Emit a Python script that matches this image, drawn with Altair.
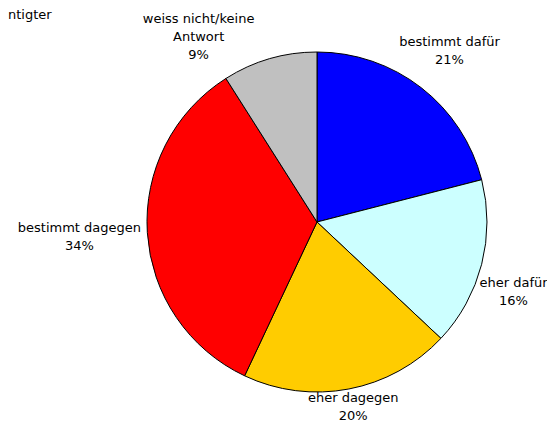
import altair as alt
import pandas as pd

categories = ["bestimmt dafür", "eher dafür", "eher dagegen", "bestimmt dagegen", "weiss nicht/keine Antwort"]
values = [21, 16, 20, 34, 9]
labels = ["bestimmt dafür\n21%", "eher dafür\n16%", "eher dagegen\n20%",
          "bestimmt dagegen\n34%", "weiss nicht/keine\nAntwort\n9%"]
colors = ["#0000FF", "#CCFFFF", "#FFCC00", "#FF0000", "#C0C0C0"]
note_text = ["ntigter"]

df = pd.DataFrame({"category": categories, "value": values, "label": labels,
                   "idx": list(range(len(categories)))})

W, H = 539, 416
CX, CY, R = 309, 214, 170
R0 = 176
LH = 18
FONT = "DejaVu Sans"

base = alt.Chart(df)

pie = base.mark_arc(outerRadius=R, stroke="black", strokeWidth=1).encode(
    theta=alt.Theta("value:Q", stack=True),
    order=alt.Order("idx:Q", sort="ascending"),
    color=alt.Color("category:N", scale=alt.Scale(domain=categories, range=colors), legend=None),
    x=alt.value(CX),
    y=alt.value(CY),
)

lymin = f"(-({CY} - datum.hh - 2))"
lymax = f"({H} - {CY} - datum.hh + 1)"
lxmax = f"({W} - {CX} - datum.hw + 5)"
lxmin = f"(-({CX} - datum.hw - 2))"

text = base.transform_window(
    cum="sum(value)", sort=[alt.SortField("idx")], frame=[None, 0]
).transform_joinaggregate(
    total="sum(value)"
).transform_calculate(
    a="2*PI*(datum.cum - datum.value/2)/datum.total",
    hw="indexof(datum.label, '\\n')*3.85",
    nl="length(split(datum.label, '\\n'))",
).transform_calculate(
    hh=f"datum.nl*{LH/2}",
).transform_calculate(
    r=f"{R0} + datum.hw*abs(sin(datum.a)) + 0.5*datum.hh*abs(cos(datum.a))",
).transform_calculate(
    lx0="datum.r*sin(datum.a)",
    ly0="-datum.r*cos(datum.a)",
).transform_calculate(
    clamp=f"datum.ly0 < {lymin}",
).transform_calculate(
    ly1=f"datum.clamp ? {lymin} : min(datum.ly0, {lymax})",
).transform_calculate(
    lx1=f"datum.clamp ? (datum.lx0 < 0 ? -1 : 1)*(sqrt(max({R}*{R} - pow(datum.ly1 + datum.hh, 2), 0)) + datum.hw*0.85) : datum.lx0",
).transform_calculate(
    lx=f"max(min(datum.lx1, {lxmax}), {lxmin})",
).transform_calculate(
    ly2=f"(datum.lx < datum.lx1 && datum.ly1 > 0) ? max(datum.ly1, sqrt(max({R}*{R} - pow(datum.lx - 0.92*datum.hw, 2), 0)) + datum.hh - 2) : datum.ly1",
).transform_calculate(
    ty=f"datum.ly2 - (datum.nl - 1)*{LH/2}",
).transform_calculate(
    tt="atan2(datum.lx, -datum.ty)",
    rr="sqrt(datum.lx*datum.lx + datum.ty*datum.ty)",
).mark_text(
    font=FONT, fontSize=13, lineBreak="\n", lineHeight=LH,
    align="center", baseline="middle", color="black",
).encode(
    theta=alt.Theta("tt:Q", scale=None, stack=False),
    radius=alt.Radius("rr:Q", scale=None),
    x=alt.value(CX),
    y=alt.value(CY),
    text="label:N",
)

note = alt.Chart(pd.DataFrame({"t": note_text})).mark_text(
    font=FONT, fontSize=13, align="left", baseline="middle", color="black"
).encode(x=alt.value(0), y=alt.value(7), text="t:N")

chart = alt.layer(pie, text, note).properties(
    width=W, height=H, autosize="none", padding=0
).configure_view(stroke=None)

chart.save("out.html", embed_options={"renderer": "svg", "actions": False})
